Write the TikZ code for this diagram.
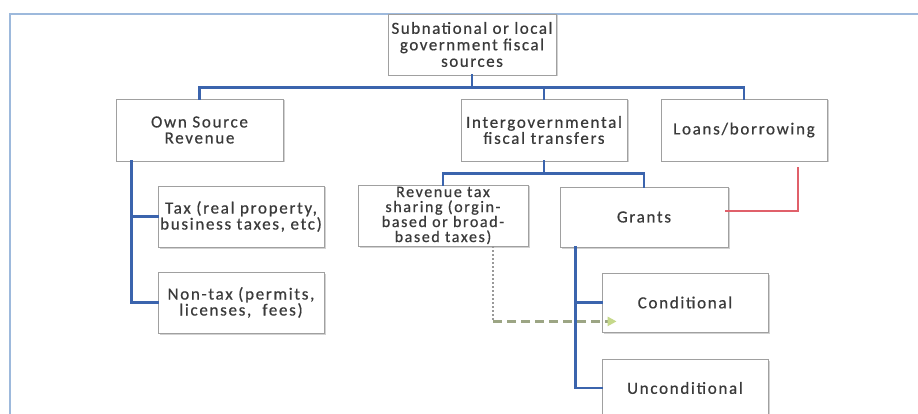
\documentclass[tikz,border=0pt]{standalone}
\usepackage{fontspec}
\setmainfont{Carlito}[LetterSpace=10,FakeBold=0.6]
\newfontfamily\tightfont{Carlito}[LetterSpace=9,FakeBold=0.6]
\usetikzlibrary{shadows,calc,arrows.meta}
\definecolor{framec}{HTML}{9DB9DC}
\definecolor{connc}{HTML}{3B64AD}
\definecolor{txtc}{HTML}{3A3A3A}
\definecolor{boxc}{HTML}{A0A0A0}
\definecolor{redc}{HTML}{E0606A}
\definecolor{dashc}{HTML}{9CA584}
\definecolor{tipc}{HTML}{C5D88A}
\begin{document}
\begin{tikzpicture}[x=1pt,y=-1pt,
  box/.style={draw=boxc, line width=0.8pt, fill=white, rectangle, inner sep=0pt,
    align=center, text=txtc, font=\fontsize{17}{16}\selectfont,
    drop shadow={shadow xshift=1.5pt, shadow yshift=-1.5pt, opacity=0.35, fill=gray}},
  conn/.style={draw=connc, line width=2.6pt, line cap=rect},
  redline/.style={draw=redc, line width=1.3pt},
  dotline/.style={draw=gray!80, line width=1.4pt, dash pattern=on 2pt off 2pt},
  dashline/.style={draw=dashc, line width=3pt, dash pattern=on 9pt off 5pt,
    -{Triangle[length=9pt,width=9pt,fill=tipc,color=tipc]}}
]
\useasboundingbox (0,0) rectangle (918,414);
\fill[white] (0,0) rectangle (918,414);
\draw[framec, line width=1.5pt] (10,14) rectangle (940,440);

\node[box, minimum width=168pt, minimum height=61pt, font=\tightfont\fontsize{17}{16.5}\selectfont] (top) at (472,44.5) {Subnational or local\\government fiscal\\sources};
\node[box, minimum width=167pt, minimum height=62pt] (own) at (199.5,130) {Own Source\\Revenue};
\node[box, minimum width=166pt, minimum height=62pt] (inter) at (544,130) {Intergovernmental\\fiscal transfers};
\node[box, minimum width=166pt, minimum height=62pt] (loans) at (744,130) {Loans/borrowing};
\node[box, minimum width=166pt, minimum height=61pt] (tax) at (241,216.5) {Tax (real property,\\business taxes, etc)};
\node[box, minimum width=166pt, minimum height=61pt] (nontax) at (241,302.5) {Non-tax (permits,\\licenses,\ \ fees)};
\node[box, minimum width=170pt, minimum height=61pt, font=\fontsize{16}{15}\selectfont] (rev) at (443,215.5) {Revenue tax\\sharing (orgin-\\based or broad-\\based taxes)};
\node[box, minimum width=168pt, minimum height=60pt] (grants) at (644,217) {Grants};
\node[box, minimum width=166pt, minimum height=59pt] (cond) at (685,302.5) {Conditional};
\node[box, minimum width=166pt, minimum height=58pt] (uncond) at (685,388) {Unconditional};

% top level bus
\draw[conn] (top.south) -- ++(0,12) coordinate (bus1);
\draw[conn] (own.north) |- (bus1) -| (loans.north);
\draw[conn] (bus1) -| (inter.north);

% own source branches
\draw[conn] ([xshift=16pt]own.south west) |- (nontax.west);
\draw[conn] ([xshift=16pt]own.south west) |- (tax.west);

% intergovernmental bus
\draw[conn] (inter.south) -- ++(0,12) coordinate (bus2);
\draw[conn] (rev.north) |- (bus2) -| (grants.north);

% grants branches
\draw[conn] ([xshift=16pt]grants.south west) |- (uncond.west);
\draw[conn] ([xshift=16pt]grants.south west) |- (cond.west);

% red link
\draw[redline] ([xshift=-3pt,yshift=6pt]grants.east) -| ([xshift=54pt,yshift=-6pt]loans.south);

% dashed link
\draw[dotline] ([xshift=50pt]rev.south) -- ++(0,75) coordinate (dcorner);
\draw[dashline] (dcorner) -- ($(dcorner -| cond.west)+(15,0)$);
\end{tikzpicture}
\end{document}
